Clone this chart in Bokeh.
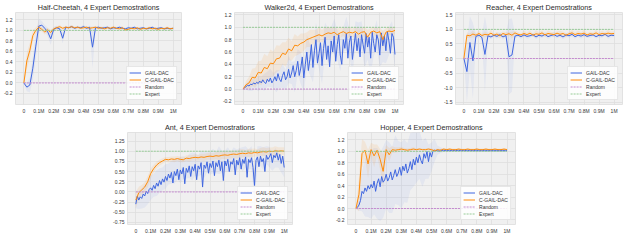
from bokeh.plotting import figure
from bokeh.models import Range1d, FixedTicker, Legend, LegendItem, Spacer, PrintfTickFormatter
from bokeh.layouts import column, row
from bokeh.embed import file_html
from bokeh.resources import INLINE

# ---------------- data ----------------
STEPS_K = [0, 20, 40, 60, 80, 100, 120, 140, 160, 180,
           200, 220, 240, 260, 280, 300, 320, 340, 360, 380,
           400, 420, 440, 460, 480, 500, 520, 540, 560, 580,
           600, 620, 640, 660, 680, 700, 720, 740, 760, 780,
           800, 820, 840, 860, 880, 900, 920, 940, 960, 980, 1000]
STEPS_FINE_K = [0, 10, 20, 30, 40, 50, 60, 70, 80, 90,
                100, 110, 120, 130, 140, 150, 160, 170, 180, 190,
                200, 210, 220, 230, 240, 250, 260, 270, 280, 290,
                300, 310, 320, 330, 340, 350, 360, 370, 380, 390,
                400, 410, 420, 430, 440, 450, 460, 470, 480, 490,
                500, 510, 520, 530, 540, 550, 560, 570, 580, 590,
                600, 610, 620, 630, 640, 650, 660, 670, 680, 690,
                700, 710, 720, 730, 740, 750, 760, 770, 780, 790,
                800, 810, 820, 830, 840, 850, 860, 870, 880, 890,
                900, 910, 920, 930, 940, 950, 960, 970, 980, 990, 1000]
XTICKS_K = [0, 100, 200, 300, 400, 500, 600, 700, 800, 900, 1000]
XTICK_LABELS = ["0", "0.1M", "0.2M", "0.3M", "0.4M", "0.5M", "0.6M", "0.7M", "0.8M", "0.9M", "1M"]
REF_X_K = [0, 1000]
RANDOM_SCORE = [0.0, 0.0]
EXPERT_SCORE = [1.0, 1.0]
SERIES_NAMES = ["GAIL-DAC", "C-GAIL-DAC", "Random", "Expert"]

# Half-Cheetah
HC_GAIL = [0.00, -0.08, -0.04, 0.28, 0.70, 1.08, 1.10, 1.04, 0.97, 0.84,
           1.02, 1.05, 1.03, 0.85, 1.06, 1.05, 1.07, 1.04, 1.06, 1.05,
           1.07, 1.04, 1.06, 0.68, 1.05, 1.06, 1.04, 1.05, 1.06, 1.03,
           1.05, 1.04, 1.06, 1.04, 1.03, 1.05, 1.04, 1.06, 1.03, 1.04,
           1.05, 1.03, 1.04, 1.06, 1.03, 1.04, 1.05, 1.03, 1.04, 1.03, 1.04]
HC_CGAIL = [0.00, 0.42, 0.62, 0.90, 1.00, 1.06, 1.02, 0.97, 1.01, 0.96,
            1.03, 1.05, 1.07, 1.04, 1.06, 1.05, 1.07, 1.05, 1.06, 1.04,
            1.05, 1.06, 1.04, 1.05, 1.06, 1.04, 1.05, 1.03, 1.05, 1.04,
            1.06, 1.04, 1.03, 1.05, 1.01, 1.02, 1.04, 1.03, 1.05, 1.02,
            1.04, 1.03, 1.05, 1.03, 1.04, 1.02, 1.04, 1.03, 1.05, 1.03, 1.04]
HC_GAIL_SD = [0.02, 0.08, 0.14, 0.22, 0.24, 0.14, 0.08, 0.06, 0.08, 0.12,
              0.05, 0.04, 0.04, 0.10, 0.03, 0.03, 0.03, 0.03, 0.03, 0.03,
              0.03, 0.03, 0.03, 0.40, 0.03, 0.03, 0.03, 0.03, 0.03, 0.03,
              0.03, 0.02, 0.03, 0.03, 0.02, 0.03, 0.02, 0.03, 0.02, 0.03,
              0.02, 0.03, 0.02, 0.02, 0.03, 0.02, 0.02, 0.03, 0.02, 0.02, 0.02]
HC_CGAIL_SD = [0.02, 0.16, 0.14, 0.10, 0.06, 0.05, 0.04, 0.05, 0.04, 0.05,
               0.03, 0.03, 0.03, 0.03, 0.03, 0.02, 0.03, 0.02, 0.03, 0.02,
               0.02, 0.03, 0.02, 0.02, 0.03, 0.02, 0.02, 0.03, 0.02, 0.02,
               0.03, 0.02, 0.02, 0.03, 0.02, 0.02, 0.03, 0.02, 0.02, 0.03,
               0.02, 0.02, 0.03, 0.02, 0.02, 0.03, 0.02, 0.02, 0.03, 0.02, 0.02]

# Walker2d (GAIL-DAC on the fine grid)
W_GAIL = [0.00, 0.02, 0.04, 0.06, 0.05, 0.08, 0.07, 0.10, 0.08, 0.11,
          0.09, 0.13, 0.10, 0.15, 0.11, 0.09, 0.16, 0.12, 0.18, 0.10,
          0.14, 0.20, 0.13, 0.25, 0.16, 0.12, 0.22, 0.28, 0.15, 0.20,
          0.32, 0.18, 0.26, 0.38, 0.20, 0.30, 0.45, 0.22, 0.34, 0.52,
          0.18, 0.40, 0.60, 0.30, 0.48, 0.72, 0.35, 0.62, 0.80, 0.42,
          0.58, 0.75, 0.38, 0.66, 0.84, 0.48, 0.70, 0.36, 0.78, 0.60,
          0.86, 0.45, 0.72, 0.88, 0.55, 0.40, 0.80, 0.66, 0.90, 0.50,
          0.76, 0.86, 0.48, 0.70, 0.90, 0.62, 0.82, 0.52, 0.88, 0.72,
          0.58, 0.90, 0.68, 0.84, 0.50, 0.92, 0.74, 0.60, 0.88, 0.80,
          0.55, 0.91, 0.70, 0.86, 0.62, 0.93, 0.78, 0.58, 0.90, 0.84, 0.56]
W_CGAIL = [0.00, 0.07, 0.10, 0.19, 0.18, 0.27, 0.26, 0.35, 0.33, 0.42,
           0.41, 0.49, 0.50, 0.58, 0.56, 0.65, 0.62, 0.71, 0.70, 0.74,
           0.76, 0.80, 0.82, 0.84, 0.86, 0.88, 0.86, 0.89, 0.91, 0.90,
           0.92, 0.88, 0.91, 0.93, 0.90, 0.92, 0.91, 0.93, 0.89, 0.92,
           0.93, 0.84, 0.92, 0.94, 0.91, 0.93, 0.80, 0.92, 0.94, 0.93, 0.95]
W_GAIL_SD = [0.01, 0.05, 0.08, 0.10, 0.08, 0.12, 0.10, 0.14, 0.12, 0.15,
             0.12, 0.18, 0.14, 0.20, 0.16, 0.22, 0.18, 0.25, 0.20, 0.26,
             0.22, 0.28, 0.25, 0.24, 0.28, 0.26, 0.30, 0.24, 0.28, 0.22,
             0.28, 0.24, 0.26, 0.20, 0.27, 0.22, 0.25, 0.20, 0.26, 0.22,
             0.24, 0.20, 0.25, 0.21, 0.24, 0.19, 0.26, 0.20, 0.23, 0.20, 0.22]
W_CGAIL_SD = [0.01, 0.06, 0.10, 0.14, 0.16, 0.18, 0.20, 0.22, 0.20, 0.22,
              0.20, 0.22, 0.20, 0.18, 0.20, 0.18, 0.16, 0.18, 0.15, 0.16,
              0.14, 0.12, 0.14, 0.12, 0.10, 0.12, 0.10, 0.11, 0.09, 0.10,
              0.08, 0.10, 0.08, 0.07, 0.09, 0.08, 0.07, 0.08, 0.09, 0.07,
              0.08, 0.12, 0.07, 0.06, 0.08, 0.07, 0.14, 0.07, 0.06, 0.07, 0.06]

# Reacher
R_GAIL = [0.00, -0.45, 0.55, -0.08, 0.76, 0.80, 0.72, 0.14, 0.78, 0.74,
          0.80, 0.76, 0.82, 0.74, 0.79, 0.06, 0.12, 0.77, 0.80, 0.75,
          0.81, 0.76, 0.78, 0.82, 0.74, 0.80, 0.77, 0.83, 0.75, 0.79,
          0.82, 0.76, 0.80, 0.74, 0.81, 0.78, 0.83, 0.75, 0.80, 0.77,
          0.82, 0.76, 0.79, 0.81, 0.75, 0.80, 0.78, 0.83, 0.76, 0.80, 0.79]
R_CGAIL = [0.00, 0.80, 0.78, 0.84, 0.80, 0.86, 0.79, 0.83, 0.81, 0.87,
           0.80, 0.84, 0.78, 0.86, 0.82, 0.85, 0.80, 0.88, 0.83, 0.81,
           0.86, 0.82, 0.87, 0.80, 0.85, 0.83, 0.88, 0.81, 0.86, 0.84,
           0.82, 0.87, 0.83, 0.86, 0.80, 0.85, 0.88, 0.82, 0.86, 0.84,
           0.87, 0.81, 0.85, 0.83, 0.88, 0.82, 0.86, 0.84, 0.87, 0.85, 0.86]
R_GAIL_SD = [0.02, 1.05, 0.90, 1.30, 0.08, 0.06, 0.10, 1.30, 0.08, 0.07,
             0.06, 0.08, 0.07, 0.09, 0.08, 1.30, 1.25, 0.08, 0.06, 0.07,
             0.06, 0.08, 0.07, 0.06, 0.08, 0.07, 0.06, 0.08, 0.07, 0.06,
             0.08, 0.07, 0.06, 0.08, 0.07, 0.06, 0.08, 0.07, 0.06, 0.08,
             0.07, 0.06, 0.08, 0.07, 0.06, 0.08, 0.07, 0.06, 0.08, 0.07, 0.06]
R_CGAIL_SD = [0.02, 0.10, 0.08, 0.12, 0.07, 0.09, 0.06, 0.10, 0.07, 0.12,
              0.06, 0.08, 0.10, 0.07, 0.09, 0.06, 0.12, 0.07, 0.08, 0.06,
              0.10, 0.07, 0.09, 0.06, 0.12, 0.07, 0.08, 0.06, 0.10, 0.07,
              0.09, 0.06, 0.12, 0.07, 0.08, 0.06, 0.10, 0.07, 0.09, 0.06,
              0.12, 0.07, 0.08, 0.06, 0.10, 0.07, 0.09, 0.06, 0.12, 0.07, 0.08]

# Ant (GAIL-DAC on the fine grid)
A_GAIL = [-0.30, -0.10, -0.20, -0.12, -0.16, -0.05, -0.10, 0.02, -0.04, 0.06,
          0.10, 0.04, 0.16, 0.08, 0.22, 0.14, 0.28, 0.18, 0.32, 0.24,
          0.38, 0.28, 0.44, 0.34, 0.48, 0.22, 0.50, 0.40, 0.56, 0.30,
          0.54, 0.44, 0.60, 0.20, 0.58, 0.48, 0.64, 0.38, 0.62, 0.52,
          0.68, 0.30, 0.64, 0.56, 0.72, 0.12, 0.66, 0.58, 0.74, 0.46,
          0.70, 0.60, 0.76, 0.40, 0.72, 0.62, 0.78, 0.52, 0.74, 0.28,
          0.76, 0.64, 0.80, 0.50, 0.74, 0.68, 0.82, 0.42, 0.78, 0.66,
          0.84, 0.56, 0.80, 0.70, 0.86, 0.36, 0.80, 0.72, 0.84, 0.60,
          0.16, 0.78, 0.86, 0.62, 0.88, 0.74, 0.82, 0.50, 0.90, 0.80,
          0.86, 0.94, 0.72, 0.90, 0.84, 0.96, 0.78, 0.92, 0.70, 0.88, 0.60]
A_CGAIL = [-0.20, -0.02, 0.05, 0.12, 0.25, 0.45, 0.57, 0.66, 0.72, 0.76,
           0.80, 0.79, 0.81, 0.80, 0.82, 0.80, 0.79, 0.83, 0.82, 0.84,
           0.85, 0.84, 0.86, 0.85, 0.87, 0.88, 0.87, 0.89, 0.88, 0.90,
           0.91, 0.90, 0.92, 0.93, 0.92, 0.94, 0.95, 0.94, 0.96, 0.95,
           0.97, 0.96, 0.98, 0.99, 0.98, 1.00, 0.99, 1.01, 1.00, 1.01, 1.00]
A_GAIL_SD = [0.10, 0.22, 0.25, 0.28, 0.26, 0.30, 0.28, 0.32, 0.30, 0.28,
             0.30, 0.26, 0.28, 0.30, 0.26, 0.32, 0.28, 0.25, 0.30, 0.34,
             0.28, 0.26, 0.30, 0.32, 0.26, 0.28, 0.30, 0.26, 0.34, 0.28,
             0.26, 0.30, 0.25, 0.28, 0.26, 0.24, 0.30, 0.26, 0.24, 0.28,
             0.34, 0.26, 0.24, 0.28, 0.22, 0.25, 0.20, 0.24, 0.18, 0.22, 0.24]
A_CGAIL_SD = [0.20, 0.15, 0.12, 0.12, 0.14, 0.12, 0.10, 0.08, 0.07, 0.07,
              0.06, 0.07, 0.06, 0.07, 0.06, 0.07, 0.06, 0.07, 0.08, 0.07,
              0.08, 0.07, 0.08, 0.09, 0.08, 0.09, 0.08, 0.09, 0.10, 0.09,
              0.10, 0.09, 0.10, 0.09, 0.10, 0.11, 0.10, 0.09, 0.10, 0.11,
              0.10, 0.09, 0.10, 0.11, 0.10, 0.09, 0.10, 0.11, 0.10, 0.09, 0.10]

# Hopper (GAIL-DAC on the fine grid)
H_GAIL = [0.00, 0.02, 0.06, 0.14, 0.30, 0.26, 0.36, 0.30, 0.40, 0.34,
          0.42, 0.36, 0.48, 0.30, 0.44, 0.52, 0.38, 0.56, 0.46, 0.50,
          0.60, 0.48, 0.54, 0.64, 0.50, 0.58, 0.68, 0.56, 0.62, 0.72,
          0.58, 0.74, 0.66, 0.78, 0.62, 0.70, 0.82, 0.68, 0.86, 0.76,
          0.90, 0.80, 0.94, 0.84, 0.78, 0.96, 0.88, 1.00, 0.82, 0.98,
          0.90, 1.01, 1.02, 1.01, 1.02, 1.00, 1.02, 1.01, 1.02, 1.01,
          1.02, 1.01, 1.02, 1.01, 1.02, 1.01, 1.02, 1.01, 1.02, 1.01,
          1.02, 1.01, 1.02, 1.01, 1.02, 1.01, 1.02, 1.01, 1.02, 1.01,
          1.02, 1.01, 1.02, 1.01, 1.02, 1.01, 1.02, 1.01, 1.02, 1.01,
          1.02, 1.01, 1.02, 1.01, 1.02, 1.01, 1.02, 1.01, 1.02, 1.01, 1.02]
H_CGAIL = [0.00, 0.25, 0.96, 1.02, 0.78, 1.03, 0.92, 1.02, 0.86, 0.65,
           1.03, 0.94, 1.03, 1.02, 1.03, 1.04, 1.03, 1.02, 1.03, 1.04,
           1.03, 1.04, 1.03, 1.03, 1.04, 1.03, 1.01, 1.03, 1.02, 1.04,
           1.03, 1.04, 1.03, 1.03, 1.04, 1.03, 1.03, 1.04, 1.03, 1.03,
           1.04, 1.03, 1.03, 1.04, 1.03, 1.03, 1.04, 1.03, 1.03, 1.04, 1.03]
H_GAIL_SD = [0.01, 0.10, 0.35, 0.50, 0.55, 0.60, 0.58, 0.62, 0.60, 0.62,
             0.60, 0.62, 0.58, 0.60, 0.56, 0.58, 0.55, 0.52, 0.50, 0.48,
             0.45, 0.42, 0.40, 0.36, 0.30, 0.25, 0.20, 0.08, 0.05, 0.03,
             0.02, 0.02, 0.02, 0.02, 0.02, 0.02, 0.02, 0.02, 0.02, 0.02,
             0.02, 0.02, 0.02, 0.02, 0.02, 0.02, 0.02, 0.02, 0.02, 0.02, 0.02]
H_CGAIL_SD = [0.01, 0.30, 0.25, 0.15, 0.25, 0.12, 0.20, 0.10, 0.18, 0.30,
              0.08, 0.12, 0.06, 0.05, 0.04, 0.04, 0.03, 0.03, 0.03, 0.03,
              0.02, 0.02, 0.02, 0.02, 0.02, 0.02, 0.03, 0.02, 0.02, 0.02,
              0.02, 0.02, 0.02, 0.02, 0.02, 0.02, 0.02, 0.02, 0.02, 0.02,
              0.02, 0.02, 0.02, 0.02, 0.02, 0.02, 0.02, 0.02, 0.02, 0.02, 0.02]

# ---------------- style ----------------
BLUE = "#3f66e0"
ORANGE = "#ff8c0a"
PURPLE = "#c58ad0"
GREEN = "#97cc97"
FONT = "Liberation Sans"

STEPS = [s * 1000 for s in STEPS_K]
STEPS_FINE = [s * 1000 for s in STEPS_FINE_K]
XTICKS = [t * 1000 for t in XTICKS_K]
REF_X = [s * 1000 for s in REF_X_K]


def grid_for(series):
    return STEPS_FINE if len(series) == len(STEPS_FINE) else STEPS


def on_coarse(series):
    # the coarse grid is every other point of the fine grid
    return series[::2] if len(series) == len(STEPS_FINE) else series


def make(title, gail, cgail, gail_sd, cgail_sd, yrange, yticks, yfmt,
         width, height, bl, br, bt, bb):
    p = figure(width=width, height=height, output_backend="svg", toolbar_location=None,
               x_range=Range1d(-56000, 1056000), y_range=Range1d(*yrange),
               min_border_left=bl, min_border_right=br, min_border_top=bt, min_border_bottom=bb)
    p.background_fill_color = "#f0f0f0"
    p.border_fill_color = "white"
    p.outline_line_color = "#e2e2e2"
    p.grid.grid_line_color = "#dedede"
    p.grid.grid_line_width = 0.8

    p.title.text = title
    p.title.text_font = FONT
    p.title.text_font_size = "7.2px"
    p.title.text_font_style = "normal"
    p.title.text_color = "#2a2a2a"
    p.title.align = "center"
    p.title.standoff = 1
    p.title.offset = 0

    for ax in (p.xaxis[0], p.yaxis[0]):
        ax.axis_line_color = None
        ax.major_tick_line_color = None
        ax.minor_tick_line_color = None
        ax.major_tick_out = 0
        ax.major_tick_in = 0
        ax.minor_tick_out = 0
        ax.minor_tick_in = 0
        ax.major_label_text_font = FONT
        ax.major_label_text_font_size = "5px"
        ax.major_label_text_color = "#333333"
        ax.major_label_standoff = 3
    p.xaxis.ticker = FixedTicker(ticks=XTICKS)
    p.xaxis.major_label_overrides = {t: l for t, l in zip(XTICKS, XTICK_LABELS)}
    p.yaxis.ticker = FixedTicker(ticks=yticks)
    p.yaxis.formatter = PrintfTickFormatter(format=yfmt)

    g_mid = on_coarse(gail)
    c_mid = on_coarse(cgail)
    lo_g = [m - s for m, s in zip(g_mid, gail_sd)]
    hi_g = [m + s for m, s in zip(g_mid, gail_sd)]
    lo_c = [m - s for m, s in zip(c_mid, cgail_sd)]
    hi_c = [m + s for m, s in zip(c_mid, cgail_sd)]
    p.varea(x=STEPS, y1=lo_g, y2=hi_g, fill_color=BLUE, fill_alpha=0.07)
    p.varea(x=STEPS, y1=lo_c, y2=hi_c, fill_color=ORANGE, fill_alpha=0.10)
    r1 = p.line(grid_for(gail), gail, line_color=BLUE, line_width=1.0)
    r2 = p.line(grid_for(cgail), cgail, line_color=ORANGE, line_width=1.0)
    r3 = p.line(REF_X, RANDOM_SCORE, line_color=PURPLE, line_width=1.0, line_dash="2 1")
    r4 = p.line(REF_X, EXPERT_SCORE, line_color=GREEN, line_width=1.0, line_dash="2 1")

    legend = Legend(items=[LegendItem(label=n, renderers=[r]) for n, r in
                           zip(SERIES_NAMES, [r1, r2, r3, r4])],
                    location="bottom_right")
    legend.label_text_font = FONT
    legend.label_text_font_size = "5px"
    legend.label_text_color = "#333333"
    legend.label_height = 7
    legend.glyph_height = 7
    legend.glyph_width = 12
    legend.label_standoff = 4
    legend.spacing = 0
    legend.padding = 2
    legend.margin = 4
    legend.background_fill_color = "white"
    legend.background_fill_alpha = 0.85
    legend.border_line_color = "#d0d0d0"
    legend.border_line_width = 0.6
    p.add_layout(legend)
    return p


TICKS_02 = [-0.2, 0.0, 0.2, 0.4, 0.6, 0.8, 1.0, 1.2]
TICKS_R = [-1.5, -1.0, -0.5, 0.0, 0.5, 1.0, 1.5]
TICKS_A = [-0.75, -0.5, -0.25, 0.0, 0.25, 0.5, 0.75, 1.0, 1.25]

p1 = make("Half-Cheetah, 4 Expert Demostrations", HC_GAIL, HC_CGAIL, HC_GAIL_SD, HC_CGAIL_SD,
          (-0.41, 1.34), TICKS_02, "%.1f", 219, 116, 12, 38, 0, 12)
p2 = make("Walker2d, 4 Expert Demostrations", W_GAIL, W_CGAIL, W_GAIL_SD, W_CGAIL_SD,
          (-0.25, 1.24), TICKS_02, "%.1f", 221, 116, 14, 37, 0, 12)
p3 = make("Reacher, 4 Expert Demostrations", R_GAIL, R_CGAIL, R_GAIL_SD, R_CGAIL_SD,
          (-1.58, 1.58), TICKS_R, "%.1f", 184, 116, 14, 2, 0, 12)
p4 = make("Ant, 4 Expert Demostrations", A_GAIL, A_CGAIL, A_GAIL_SD, A_CGAIL_SD,
          (-0.8, 1.46), TICKS_A, "%.2f", 222, 120, 16, 40, 16, 10)
p5 = make("Hopper, 4 Expert Demostrations", H_GAIL, H_CGAIL, H_GAIL_SD, H_CGAIL_SD,
          (-0.28, 1.33), TICKS_02, "%.1f", 188, 120, 14, 5, 16, 10)

layout = column(row(p1, p2, p3), row(Spacer(width=110, height=120), p4, p5))
open("out.html", "w").write(file_html(layout, INLINE))
